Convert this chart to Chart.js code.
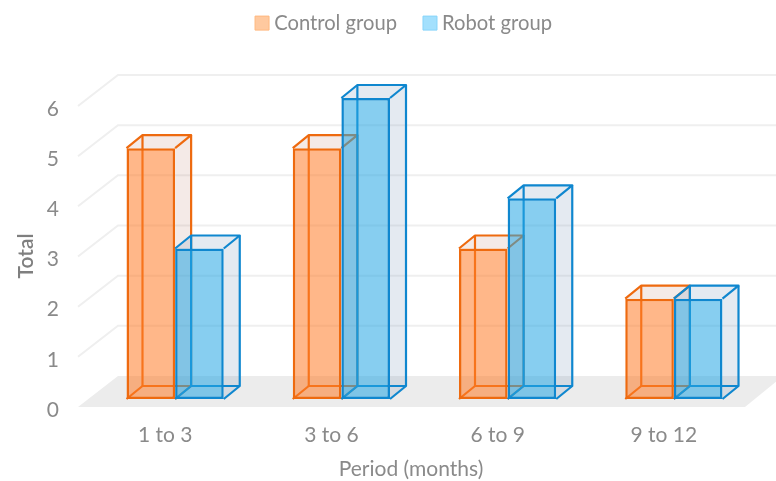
<!DOCTYPE html>
<html>
<head>
<meta charset="utf-8">
<title>Total by period</title>
<script src="https://cdn.jsdelivr.net/npm/chart.js@4/dist/chart.umd.min.js"></script>
<style>
  html, body { margin: 0; padding: 0; background: #fff; }
  canvas { display: block; }
</style>
</head>
<body>
<canvas id="chart" width="776" height="481"></canvas>
<script>
const categories = ['1 to 3', '3 to 6', '6 to 9', '9 to 12'];
const controlGroup = [5, 5, 3, 2];
const robotGroup = [3, 6, 4, 2];
const yTicks = [0, 1, 2, 3, 4, 5, 6];

const TEXT = '#8a8a8a';
const FONT = 'Lato, sans-serif';
const DEPTH_X = 16, DEPTH_Y = 13;   // box depth of one bar
const WALL_X = 26, WALL_Y = 23;     // back wall, from the value line
const FRONT_X = 14, FRONT_Y = 8;    // front of the floor, from the value line

function line(ctx, points) {
    ctx.beginPath();
    points.forEach((p, i) => i ? ctx.lineTo(p[0], p[1]) : ctx.moveTo(p[0], p[1]));
    ctx.stroke();
}

function polygon(ctx, points) {
    ctx.beginPath();
    points.forEach((p, i) => i ? ctx.lineTo(p[0], p[1]) : ctx.moveTo(p[0], p[1]));
    ctx.closePath();
    ctx.fill();
}

// floor and the perspective grid lines behind the bars
function drawBackdrop(chart) {
    const { ctx, chartArea, scales: { y } } = chart;
    const zero = y.getPixelForValue(0);
    ctx.fillStyle = '#ececec';
    polygon(ctx, [
        [chartArea.left - FRONT_X, zero + FRONT_Y],
        [chartArea.left + WALL_X, zero - WALL_Y],
        [chartArea.right + WALL_X, zero - WALL_Y],
        [chartArea.right - 12, zero + FRONT_Y]
    ]);
    ctx.strokeStyle = '#efefef';
    ctx.lineWidth = 2;
    yTicks.slice(1).forEach(v => {
        const py = y.getPixelForValue(v);
        line(ctx, [
            [chartArea.left - FRONT_X, py + FRONT_Y],
            [chartArea.left + WALL_X, py - WALL_Y],
            [chartArea.right + WALL_X, py - WALL_Y]
        ]);
    });
}

// top, side and hidden edges of each box; the front face is the library's own bar
function drawDepth(chart, meta) {
    const { ctx } = chart;
    const ds = chart.data.datasets[meta.index];
    meta.data.forEach(bar => {
        const { x, y, base, width } = bar.getProps(['x', 'y', 'base', 'width'], true);
        const l = x - width / 2, r = x + width / 2;
        const dx = DEPTH_X, dy = DEPTH_Y;
        ctx.fillStyle = ds.depthFill;
        polygon(ctx, [[l, y], [l + dx, y - dy], [r + dx, y - dy], [r + dx, base - dy], [r, base], [r, y]]);
        ctx.strokeStyle = ds.borderColor;
        ctx.lineWidth = 2.2;
        ctx.lineJoin = 'round';
        line(ctx, [[l, y], [l + dx, y - dy], [r + dx, y - dy], [r, y]]);
        line(ctx, [[r + dx, y - dy], [r + dx, base - dy], [r, base]]);
        line(ctx, [[l, base], [l + dx, base - dy], [r + dx, base - dy]]);
        line(ctx, [[l + dx, y - dy], [l + dx, base - dy]]);
    });
}

function axisTitle(ctx, text, x, y, angle, weight) {
    ctx.save();
    ctx.translate(x, y);
    ctx.rotate(angle);
    ctx.font = weight + ' 21px ' + FONT;
    ctx.textAlign = 'center';
    ctx.textBaseline = 'middle';
    ctx.fillText(text, 0, 0);
    ctx.restore();
}

const scene3d = {
    id: 'scene3d',
    beforeInit(chart) {
        // room between the legend and the plot
        const fit = chart.legend.fit;
        chart.legend.fit = function () {
            fit.call(this);
            this.height = 116;
        };
    },
    afterLayout(chart) {
        chart.legend.left += 7.5;
        chart.legend.right += 7.5;
    },
    beforeDatasetsDraw(chart) {
        drawBackdrop(chart);
        // first series underneath, second on top of it
        chart.data.datasets.forEach((ds, i) => {
            const meta = chart.getDatasetMeta(i);
            drawDepth(chart, meta);
            meta.controller.draw();
        });
        return false;
    },
    afterDraw(chart) {
        const { ctx } = chart;
        ctx.fillStyle = '#7f7f7f';
        axisTitle(ctx, 'Total', 26, 256, -Math.PI / 2, '600');
        ctx.fillStyle = TEXT;
        axisTitle(ctx, 'Period (months)', 411, 469, 0, '400');
    }
};

new Chart(document.getElementById('chart'), {
    type: 'bar',
    plugins: [scene3d],
    data: {
        labels: categories,
        datasets: [
            {
                label: 'Control group',
                data: controlGroup,
                backgroundColor: 'rgba(255,124,40,0.55)',
                borderColor: '#ee6a0f',
                borderWidth: 2.5,
                borderSkipped: false,
                depthFill: 'rgba(190,130,110,0.17)',
                legendFill: '#ffc99f',
                legendStroke: '#ffb87f'
            },
            {
                label: 'Robot group',
                data: robotGroup,
                backgroundColor: 'rgba(37,166,228,0.55)',
                borderColor: '#0f87cf',
                borderWidth: 2.5,
                borderSkipped: false,
                depthFill: 'rgba(120,150,185,0.2)',
                legendFill: '#a3e0fd',
                legendStroke: '#86d4fa'
            }
        ]
    },
    options: {
        responsive: false,
        animation: false,
        barPercentage: 1,
        categoryPercentage: 0.585,
        layout: { padding: { top: -18, left: 40, right: 19, bottom: 0 } },
        plugins: {
            tooltip: { enabled: false },
            legend: {
                position: 'top',
                labels: {
                    color: TEXT,
                    font: { family: FONT, size: 20.2 },
                    padding: 31,
                    boxWidth: 4,
                    boxHeight: 14,
                    usePointStyle: true,
                    generateLabels(chart) {
                        return chart.data.datasets.map((ds, i) => ({
                            text: ds.label,
                            datasetIndex: i,
                            fillStyle: ds.legendFill,
                            strokeStyle: ds.legendStroke,
                            lineWidth: 1,
                            pointStyle: 'rect',
                            fontColor: TEXT
                        }));
                    }
                }
            }
        },
        scales: {
            x: {
                grid: { display: false, drawTicks: false },
                border: { display: false },
                afterFit(scale) { scale.height = 82; },
                ticks: {
                    color: TEXT,
                    font: { family: FONT, size: 21 },
                    padding: 24,
                    labelOffset: -10
                }
            },
            y: {
                min: 0,
                max: 6,
                grid: { display: false, drawTicks: false },
                border: { display: false },
                afterFit(scale) { scale.width = 52; },
                afterBuildTicks(scale) { scale.ticks = yTicks.map(value => ({ value })); },
                ticks: {
                    color: TEXT,
                    font: { family: FONT, size: 21 },
                    padding: 33,
                    labelOffset: 11
                }
            }
        }
    }
});
</script>
</body>
</html>
